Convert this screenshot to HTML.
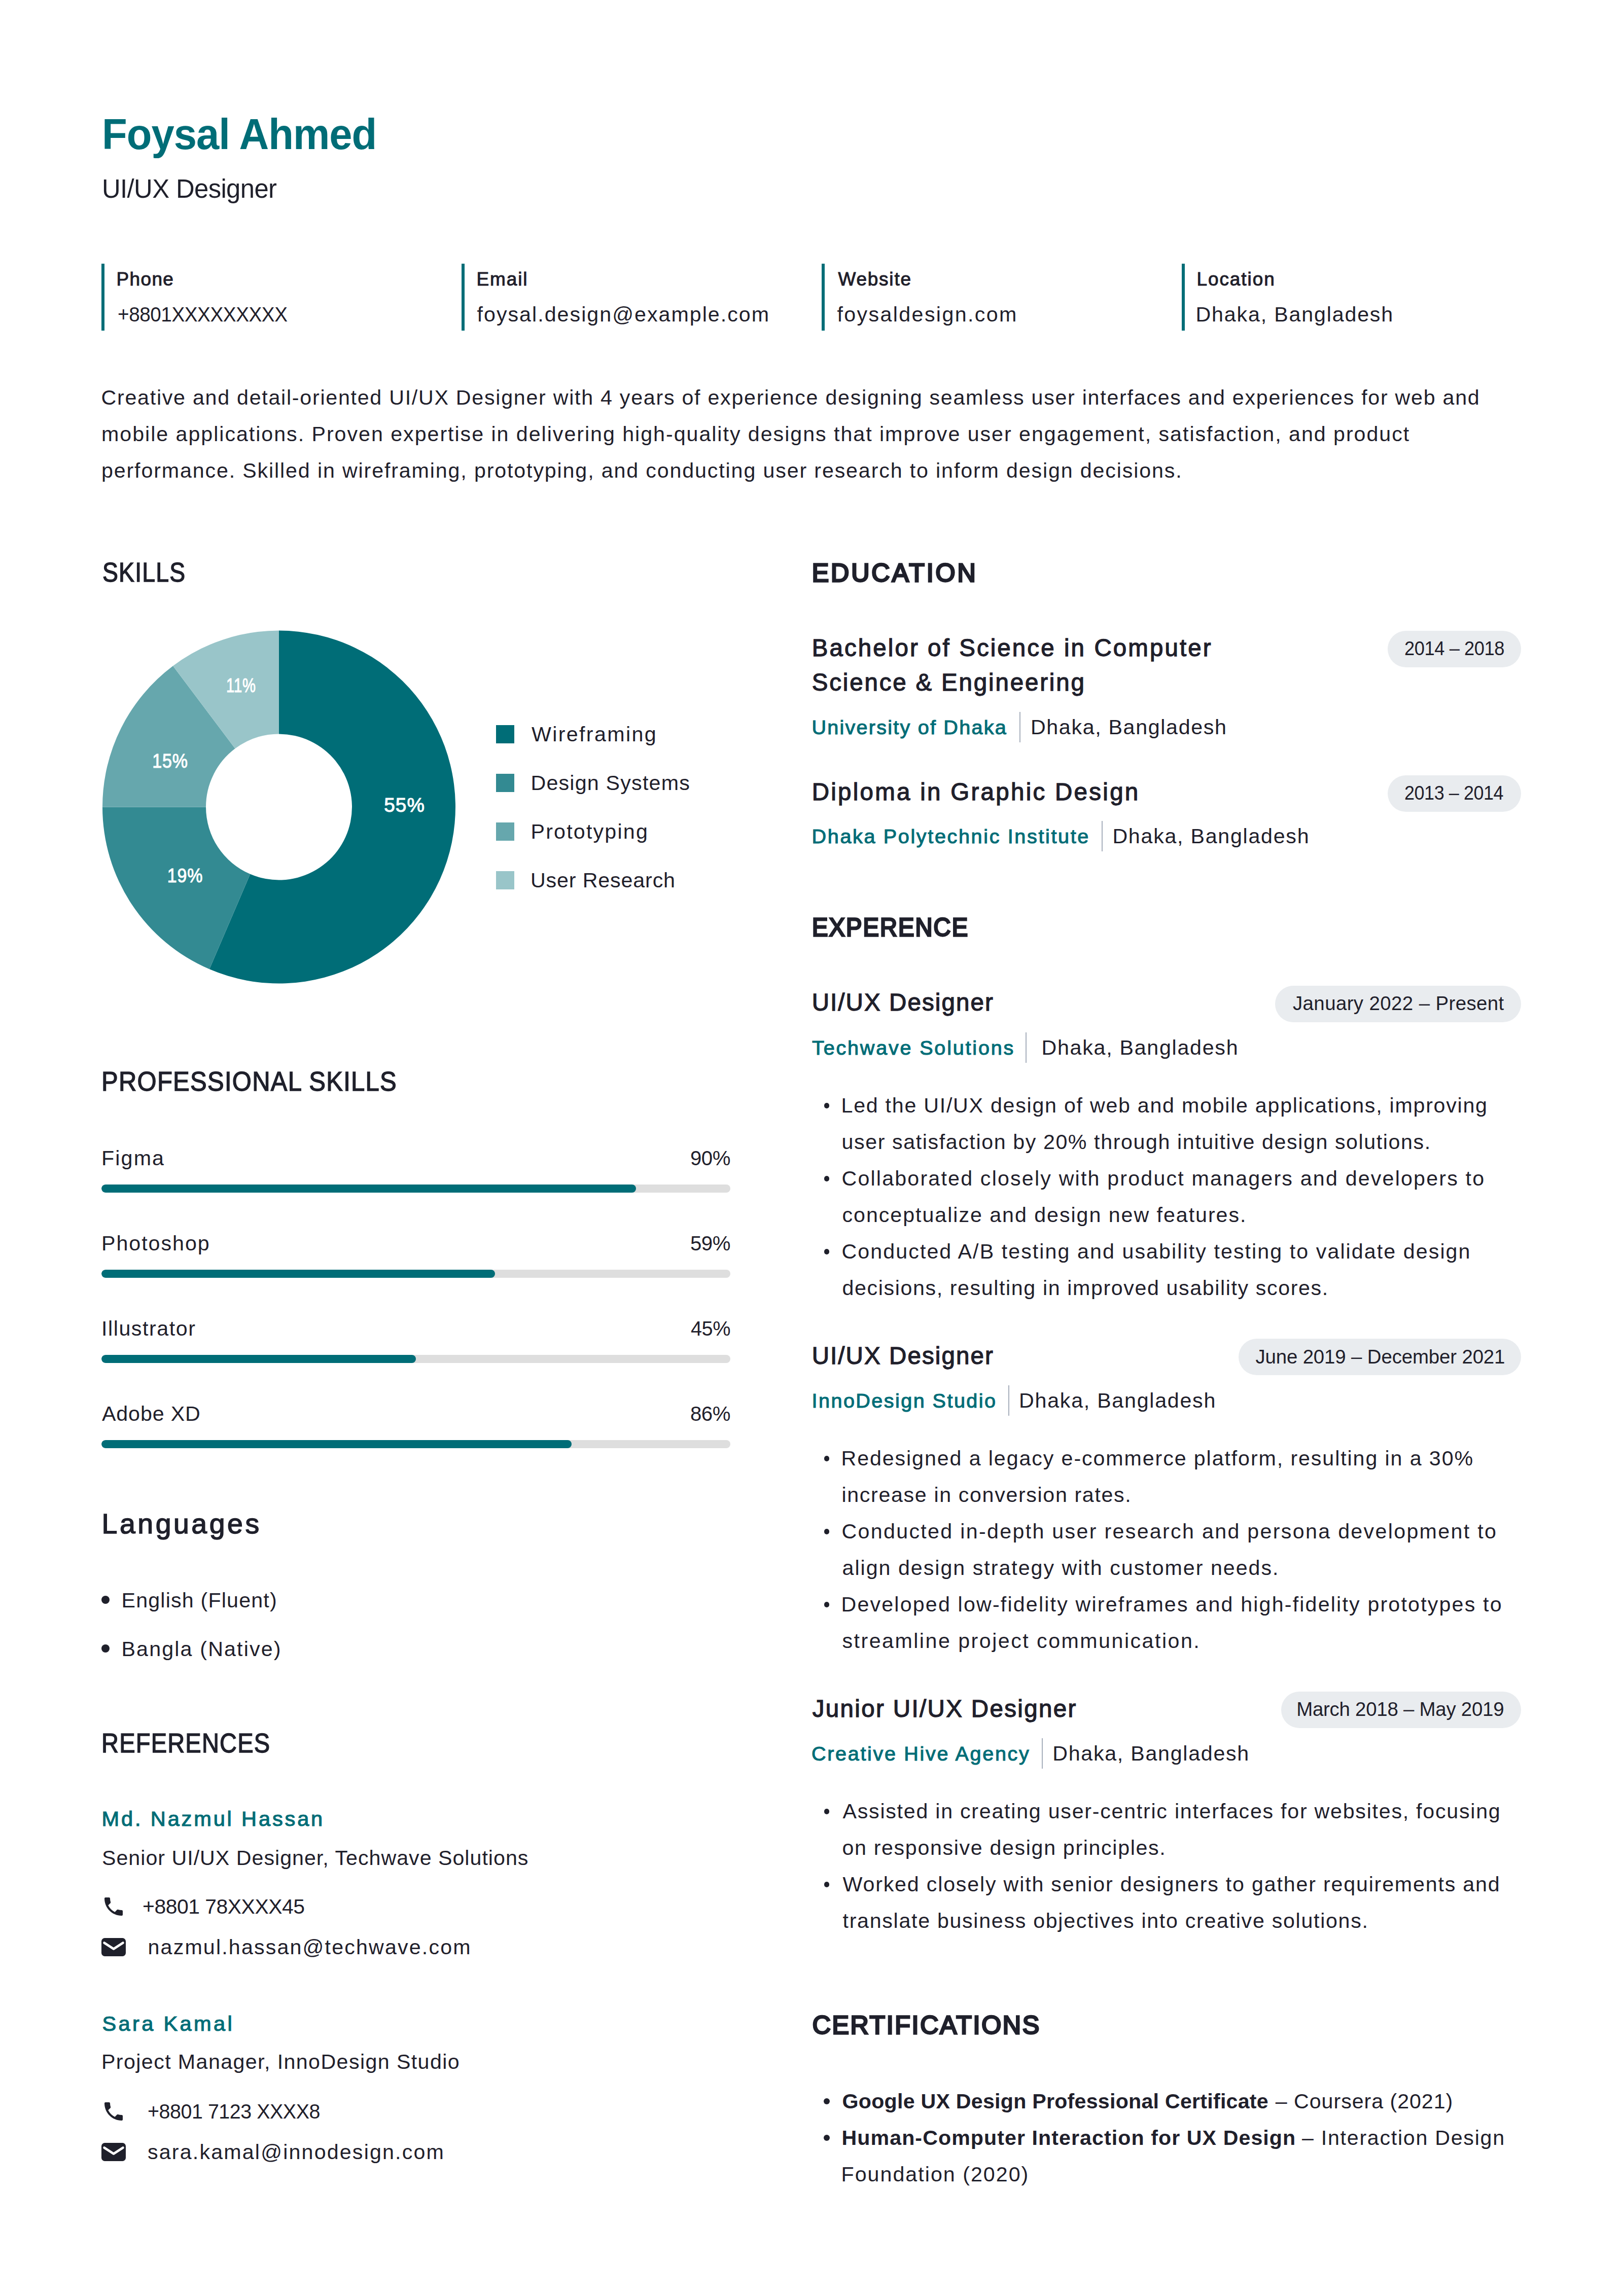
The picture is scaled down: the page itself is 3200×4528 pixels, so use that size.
<!DOCTYPE html>
<html lang="en">
<head>
<meta charset="utf-8">
<title>Foysal Ahmed – UI/UX Designer</title>
<style>
html,body{margin:0;padding:0;background:#fff}
body{width:3200px;height:4528px;font-family:"Liberation Sans",sans-serif;color:#1f202b}
.page{position:relative;width:3200px;height:4528px;background:#fff;overflow:hidden}
.page *{margin:0;padding:0;box-sizing:border-box}
ul,dl{list-style:none}
.t{position:absolute;transform-origin:0 0;white-space:nowrap;font-weight:400;font-style:normal;color:#1f202b;font-variant-ligatures:none;font-kerning:normal}
.t.m,.t.sb{-webkit-text-stroke-color:currentColor}
.t.b{font-weight:700}
.t.tl{color:#006d77}
.vbar{position:absolute;top:520px;width:6px;height:132px;background:#006d77}
.pill{}
.pbg{position:absolute;height:72px;border-radius:36px;background:#e9ecef}
.sep{position:absolute;width:2px;height:60px;background:#a7afbc}
.sw{position:absolute;left:978px;width:36px;height:36px}
.bar{position:absolute;left:200px;width:1240px;height:16px;border-radius:8px;background:#dedede;overflow:hidden}
.bar i{display:block;height:16px;border-radius:8px;background:#006d77}
.dot{position:absolute;border-radius:50%;background:#1f202b}
svg{position:absolute;overflow:visible}
svg text{font-family:"Liberation Sans",sans-serif;white-space:pre}
</style>
</head>
<body>
<main class="page">
<header>
<h1 class="t b tl" style="left:200.59px;top:215.0px;font-size:84.5px;line-height:101px;letter-spacing:-1.014px;transform:scaleX(0.9627)">Foysal Ahmed</h1>
<p class="t" style="left:201.31px;top:342.0px;font-size:51.0px;line-height:61px;letter-spacing:-0.612px;transform:scaleX(0.996)">UI/UX Designer</p>
<dl class="contact">
<div class="ci"><i class="vbar" style="left:200px"></i>
<dt class="t m" style="left:229.42px;top:528.6px;font-size:36.94px;line-height:44px;letter-spacing:1.432px;-webkit-text-stroke-width:1.04px">Phone</dt>
<dd class="t" style="left:231.52px;top:595.8px;font-size:41.2px;line-height:49px;letter-spacing:-0.494px;transform:scaleX(0.9397)">+8801XXXXXXXXX</dd>
</div>
<div class="ci"><i class="vbar" style="left:910px"></i>
<dt class="t m" style="left:939.42px;top:528.6px;font-size:36.94px;line-height:44px;letter-spacing:1.934px;-webkit-text-stroke-width:1.04px">Email</dt>
<dd class="t" style="left:940.5px;top:595.8px;font-size:41.2px;line-height:49px;letter-spacing:2.019px">foysal.design@example.com</dd>
</div>
<div class="ci"><i class="vbar" style="left:1620px"></i>
<dt class="t m" style="left:1652.42px;top:528.6px;font-size:36.94px;line-height:44px;letter-spacing:1.813px;-webkit-text-stroke-width:1.04px">Website</dt>
<dd class="t" style="left:1650.5px;top:595.8px;font-size:41.2px;line-height:49px;letter-spacing:2.373px">foysaldesign.com</dd>
</div>
<div class="ci"><i class="vbar" style="left:2330px"></i>
<dt class="t m" style="left:2359.42px;top:528.6px;font-size:36.94px;line-height:44px;letter-spacing:1.971px;-webkit-text-stroke-width:1.04px">Location</dt>
<dd class="t" style="left:2357.5px;top:595.8px;font-size:41.2px;line-height:49px;letter-spacing:1.824px">Dhaka, Bangladesh</dd>
</div>
</dl>
</header>
<section class="summary"><p>
<span class="t" style="left:199.5px;top:760.2px;font-size:41.2px;line-height:49px;letter-spacing:1.732px">Creative and detail-oriented UI/UX Designer with 4 years of experience designing seamless user interfaces and experiences for web and</span>
<span class="t" style="left:200.0px;top:831.8px;font-size:41.2px;line-height:49px;letter-spacing:1.967px">mobile applications. Proven expertise in delivering high-quality designs that improve user engagement, satisfaction, and product</span>
<span class="t" style="left:200.0px;top:903.8px;font-size:41.2px;line-height:49px;letter-spacing:1.859px">performance. Skilled in wireframing, prototyping, and conducting user research to inform design decisions.</span>
</p></section>
<section class="skills">
<h2 class="t m" style="left:201.78px;top:1097.4px;font-size:52.77px;line-height:63px;letter-spacing:1.373px;transform:scaleX(0.8784);-webkit-text-stroke-width:1.48px">SKILLS</h2>
<svg class="donut" style="left:0;top:0" width="3200" height="2000" viewBox="0 0 3200 2000" role="img" aria-label="Skills chart">
<path fill="#006d77" d="M550.00 1243.50A348 348 0 1 1 412.91 1911.36L493.27 1723.86A144 144 0 1 0 550.00 1447.50Z"/>
<path fill="#338a92" d="M412.91 1911.36A348 348 0 0 1 202.00 1591.50L406.00 1591.50A144 144 0 0 0 493.27 1723.86Z"/>
<path fill="#66a7ad" d="M202.00 1591.50A348 348 0 0 1 341.05 1313.21L463.54 1476.35A144 144 0 0 0 406.00 1591.50Z"/>
<path fill="#99c5c9" d="M341.05 1313.21A348 348 0 0 1 550.00 1243.50L550.00 1447.50A144 144 0 0 0 463.54 1476.35Z"/>
<text transform="translate(757.28 1600.9) scale(0.9798 1)" fill="#ffffff" stroke="#ffffff" stroke-width="1.11" style="font-size:39.58px;letter-spacing:1.03px">55%</text>
<text transform="translate(329.78 1739.9) scale(0.8586 1)" fill="#ffffff" stroke="#ffffff" stroke-width="1.11" style="font-size:39.58px;letter-spacing:1.03px">19%</text>
<text transform="translate(300.18 1513.7) scale(0.8599 1)" fill="#ffffff" stroke="#ffffff" stroke-width="1.11" style="font-size:39.58px;letter-spacing:1.03px">15%</text>
<text transform="translate(446.04 1365.3) scale(0.7389 1)" fill="#ffffff" stroke="#ffffff" stroke-width="1.11" style="font-size:39.58px;letter-spacing:1.03px">11%</text>
</svg>
<ul class="legend">
<li><i class="sw" style="top:1430px;background:#006d77"></i>
<span class="t" style="left:1047.9px;top:1423.8px;font-size:41.2px;line-height:49px;letter-spacing:2.371px">Wireframing</span>
</li>
<li><i class="sw" style="top:1526px;background:#338a92"></i>
<span class="t" style="left:1046.5px;top:1519.8px;font-size:41.2px;line-height:49px;letter-spacing:1.209px">Design Systems</span>
</li>
<li><i class="sw" style="top:1622px;background:#66a7ad"></i>
<span class="t" style="left:1046.5px;top:1615.8px;font-size:41.2px;line-height:49px;letter-spacing:2.195px">Prototyping</span>
</li>
<li><i class="sw" style="top:1718px;background:#99c5c9"></i>
<span class="t" style="left:1046.0px;top:1711.8px;font-size:41.2px;line-height:49px;letter-spacing:0.86px">User Research</span>
</li>
</ul>
</section>
<section class="proskills">
<h2 class="t m" style="left:200.03px;top:2101.4px;font-size:52.77px;line-height:63px;letter-spacing:1.373px;transform:scaleX(0.928);-webkit-text-stroke-width:1.48px">PROFESSIONAL SKILLS</h2>
<div class="skill">
<span class="t" style="left:200.0px;top:2259.9px;font-size:41.2px;line-height:49px;letter-spacing:2.142px">Figma</span>
<span class="t" style="left:1360.63px;top:2259.9px;font-size:41.2px;line-height:49px;letter-spacing:-0.494px;transform:scaleX(0.9746)">90%</span>
<div class="bar" style="top:2336px"><i style="width:1054px"></i></div>
</div>
<div class="skill">
<span class="t" style="left:200.0px;top:2427.9px;font-size:41.2px;line-height:49px;letter-spacing:1.969px">Photoshop</span>
<span class="t" style="left:1360.63px;top:2427.9px;font-size:41.2px;line-height:49px;letter-spacing:-0.494px;transform:scaleX(0.9746)">59%</span>
<div class="bar" style="top:2504px"><i style="width:776px"></i></div>
</div>
<div class="skill">
<span class="t" style="left:200.0px;top:2595.9px;font-size:41.2px;line-height:49px;letter-spacing:1.553px">Illustrator</span>
<span class="t" style="left:1361.6px;top:2595.9px;font-size:41.2px;line-height:49px;letter-spacing:-0.494px;transform:scaleX(0.9626)">45%</span>
<div class="bar" style="top:2672px"><i style="width:619.5px"></i></div>
</div>
<div class="skill">
<span class="t" style="left:201.0px;top:2763.9px;font-size:41.2px;line-height:49px;letter-spacing:0.868px">Adobe XD</span>
<span class="t" style="left:1360.63px;top:2763.9px;font-size:41.2px;line-height:49px;letter-spacing:-0.494px;transform:scaleX(0.9746)">86%</span>
<div class="bar" style="top:2840px"><i style="width:927px"></i></div>
</div>
</section>
<section class="languages">
<h2 class="t m" style="left:200.58px;top:2972.4px;font-size:55.42px;line-height:67px;letter-spacing:4.541px;-webkit-text-stroke-width:1.56px">Languages</h2>
<ul>
<li><i class="dot" style="left:200px;top:3147px;width:16px;height:16px"></i>
<span class="t" style="left:239.5px;top:3131.6px;font-size:41.2px;line-height:49px;letter-spacing:1.185px">English (Fluent)</span>
</li>
<li><i class="dot" style="left:200px;top:3243px;width:16px;height:16px"></i>
<span class="t" style="left:239.5px;top:3227.6px;font-size:41.2px;line-height:49px;letter-spacing:2.153px">Bangla (Native)</span>
</li>
</ul>
</section>
<section class="references">
<h2 class="t m" style="left:200.18px;top:3405.6px;font-size:52.77px;line-height:63px;letter-spacing:1.373px;transform:scaleX(0.8904);-webkit-text-stroke-width:1.48px">REFERENCES</h2>
<article>
<h3 class="t m tl" style="left:200.59px;top:3562px;font-size:41.56px;line-height:50px;letter-spacing:3.849px;-webkit-text-stroke-width:1.17px">Md. Nazmul Hassan</h3>
<p class="t" style="left:201.0px;top:3639.6px;font-size:41.2px;line-height:49px;letter-spacing:0.997px">Senior UI/UX Designer, Techwave Solutions</p>
<svg style="left:200px;top:3736px" width="48" height="48" viewBox="0 0 24 24"><path fill="#1f202b" d="M6.62 10.79c1.44 2.83 3.76 5.14 6.59 6.59l2.2-2.2c.27-.27.67-.36 1.02-.24 1.12.37 2.33.57 3.57.57.55 0 1 .45 1 1V20c0 .55-.45 1-1 1-9.39 0-17-7.61-17-17 0-.55.45-1 1-1h3.5c.55 0 1 .45 1 1 0 1.25.2 2.45.57 3.57.11.35.03.74-.25 1.02l-2.2 2.2z"/></svg>
<span class="t" style="left:281.01px;top:3736px;font-size:41.2px;line-height:49px;letter-spacing:-0.494px;transform:scaleX(0.9931)">+8801 78XXXX45</span>
<svg style="left:200px;top:3822px" width="48" height="36" viewBox="0 0 48 36"><rect width="48" height="36" rx="6.5" fill="#1f202b"/><path d="M5.5 9.5L24 21.5L42.5 9.5" fill="none" stroke="#fff" stroke-width="4.6" stroke-linecap="round" stroke-linejoin="round"/></svg>
<span class="t" style="left:291.5px;top:3816px;font-size:41.2px;line-height:49px;letter-spacing:2.16px">nazmul.hassan@techwave.com</span>
</article><article>
<h3 class="t m tl" style="left:201.59px;top:3965.7px;font-size:41.56px;line-height:50px;letter-spacing:4.331px;-webkit-text-stroke-width:1.17px">Sara Kamal</h3>
<p class="t" style="left:200.0px;top:4042.3px;font-size:41.2px;line-height:49px;letter-spacing:1.403px">Project Manager, InnoDesign Studio</p>
<svg style="left:200px;top:4139.5px" width="48" height="48" viewBox="0 0 24 24"><path fill="#1f202b" d="M6.62 10.79c1.44 2.83 3.76 5.14 6.59 6.59l2.2-2.2c.27-.27.67-.36 1.02-.24 1.12.37 2.33.57 3.57.57.55 0 1 .45 1 1V20c0 .55-.45 1-1 1-9.39 0-17-7.61-17-17 0-.55.45-1 1-1h3.5c.55 0 1 .45 1 1 0 1.25.2 2.45.57 3.57.11.35.03.74-.25 1.02l-2.2 2.2z"/></svg>
<span class="t" style="left:291.08px;top:4139.8px;font-size:41.2px;line-height:49px;letter-spacing:-0.494px;transform:scaleX(0.9575)">+8801 7123 XXXX8</span>
<svg style="left:200px;top:4225.6px" width="48" height="36" viewBox="0 0 48 36"><rect width="48" height="36" rx="6.5" fill="#1f202b"/><path d="M5.5 9.5L24 21.5L42.5 9.5" fill="none" stroke="#fff" stroke-width="4.6" stroke-linecap="round" stroke-linejoin="round"/></svg>
<span class="t" style="left:291.0px;top:4219.6px;font-size:41.2px;line-height:49px;letter-spacing:2.173px">sara.kamal@innodesign.com</span>
</article>
</section>
<section class="education">
<h2 class="t sb" style="left:1600.65px;top:1100.4px;font-size:50.14px;line-height:60px;letter-spacing:3.952px;-webkit-text-stroke-width:3.3px">EDUCATION</h2>
<article>
<h3>
<span class="t m" style="left:1600.66px;top:1248.6px;font-size:47.5px;line-height:57px;letter-spacing:3.083px;-webkit-text-stroke-width:1.33px">Bachelor of Science in Computer</span>
<span class="t m" style="left:1600.66px;top:1316.6px;font-size:47.5px;line-height:57px;letter-spacing:2.83px;-webkit-text-stroke-width:1.33px">Science &amp; Engineering</span>
</h3>
<i class="pbg" style="left:2736px;top:1243.9px;width:263px"></i>
<time class="t pill" style="left:2769.36px;top:1256.2px;font-size:38.45px;line-height:46px;letter-spacing:-0.461px;transform:scaleX(0.9445)">2014 – 2018</time>
<p class="org">
<span class="t m tl" style="left:1600.56px;top:1410.9px;font-size:39.58px;line-height:47px;letter-spacing:2.22px;-webkit-text-stroke-width:1.11px">University of Dhaka</span>
<i class="sep" style="left:2010px;top:1403.9px"></i>
<span class="t" style="left:2031.9px;top:1409.9px;font-size:41.2px;line-height:49px;letter-spacing:1.662px">Dhaka, Bangladesh</span>
</p>
</article><article>
<h3 class="t m" style="left:1600.66px;top:1533.4px;font-size:47.5px;line-height:57px;letter-spacing:3.276px;-webkit-text-stroke-width:1.33px">Diploma in Graphic Design</h3>
<i class="pbg" style="left:2736px;top:1528.8px;width:263px"></i>
<time class="t pill" style="left:2769.36px;top:1541.1px;font-size:38.45px;line-height:46px;letter-spacing:-0.461px;transform:scaleX(0.9351)">2013 – 2014</time>
<p class="org">
<span class="t m tl" style="left:1600.56px;top:1625.9px;font-size:39.58px;line-height:47px;letter-spacing:2.631px;-webkit-text-stroke-width:1.11px">Dhaka Polytechnic Institute</span>
<i class="sep" style="left:2172px;top:1618.9px"></i>
<span class="t" style="left:2193.4px;top:1624.9px;font-size:41.2px;line-height:49px;letter-spacing:1.731px">Dhaka, Bangladesh</span>
</p>
</article>
</section>
<section class="experience">
<h2 class="t sb" style="left:1600.9px;top:1799.4px;font-size:50.14px;line-height:60px;letter-spacing:2.252px;transform:scaleX(0.9385);-webkit-text-stroke-width:3.3px">EXPERENCE</h2>
<article>
<h3 class="t m" style="left:1600.66px;top:1948.4px;font-size:47.5px;line-height:57px;letter-spacing:2.085px;-webkit-text-stroke-width:1.33px">UI/UX Designer</h3>
<i class="pbg" style="left:2514px;top:1943.8px;width:485px"></i>
<time class="t pill" style="left:2549.0px;top:1956.1px;font-size:38.45px;line-height:46px;letter-spacing:0.388px">January 2022 – Present</time>
<p class="org">
<span class="t m tl" style="left:1601.06px;top:2043.2px;font-size:39.58px;line-height:47px;letter-spacing:2.792px;-webkit-text-stroke-width:1.11px">Techwave Solutions</span>
<i class="sep" style="left:2022px;top:2036.2px"></i>
<span class="t" style="left:2053.5px;top:2042.2px;font-size:41.2px;line-height:49px;letter-spacing:1.724px">Dhaka, Bangladesh</span>
</p>
<ul>
<li><i class="dot" style="left:1624.8px;top:2175.2px;width:10.5px;height:10.5px"></i>
<span class="t" style="left:1658.5px;top:2155.6px;font-size:41.2px;line-height:49px;letter-spacing:1.735px">Led the UI/UX design of web and mobile applications, improving</span>
<span class="t" style="left:1659.5px;top:2227.6px;font-size:41.2px;line-height:49px;letter-spacing:1.59px">user satisfaction by 20% through intuitive design solutions.</span>
</li>
<li><i class="dot" style="left:1624.8px;top:2319.2px;width:10.5px;height:10.5px"></i>
<span class="t" style="left:1659.5px;top:2299.6px;font-size:41.2px;line-height:49px;letter-spacing:2.182px">Collaborated closely with product managers and developers to</span>
<span class="t" style="left:1660.5px;top:2371.6px;font-size:41.2px;line-height:49px;letter-spacing:1.956px">conceptualize and design new features.</span>
</li>
<li><i class="dot" style="left:1624.8px;top:2463.2px;width:10.5px;height:10.5px"></i>
<span class="t" style="left:1659.5px;top:2443.6px;font-size:41.2px;line-height:49px;letter-spacing:2.069px">Conducted A/B testing and usability testing to validate design</span>
<span class="t" style="left:1660.5px;top:2515.6px;font-size:41.2px;line-height:49px;letter-spacing:1.604px">decisions, resulting in improved usability scores.</span>
</li></ul>
</article><article>
<h3 class="t m" style="left:1600.66px;top:2644.7px;font-size:47.5px;line-height:57px;letter-spacing:2.085px;-webkit-text-stroke-width:1.33px">UI/UX Designer</h3>
<i class="pbg" style="left:2442px;top:2640.2px;width:557px"></i>
<time class="t pill" style="left:2475.4px;top:2652.5px;font-size:38.45px;line-height:46px;letter-spacing:-0.154px">June 2019 – December 2021</time>
<p class="org">
<span class="t m tl" style="left:1600.56px;top:2739.2px;font-size:39.58px;line-height:47px;letter-spacing:2.441px;-webkit-text-stroke-width:1.11px">InnoDesign Studio</span>
<i class="sep" style="left:1987.5px;top:2732.2px"></i>
<span class="t" style="left:2009.1px;top:2738.2px;font-size:41.2px;line-height:49px;letter-spacing:1.731px">Dhaka, Bangladesh</span>
</p>
<ul>
<li><i class="dot" style="left:1624.8px;top:2871.2px;width:10.5px;height:10.5px"></i>
<span class="t" style="left:1658.5px;top:2851.6px;font-size:41.2px;line-height:49px;letter-spacing:1.898px">Redesigned a legacy e-commerce platform, resulting in a 30%</span>
<span class="t" style="left:1659.5px;top:2923.6px;font-size:41.2px;line-height:49px;letter-spacing:1.642px">increase in conversion rates.</span>
</li>
<li><i class="dot" style="left:1624.8px;top:3015.2px;width:10.5px;height:10.5px"></i>
<span class="t" style="left:1659.5px;top:2995.6px;font-size:41.2px;line-height:49px;letter-spacing:2.311px">Conducted in-depth user research and persona development to</span>
<span class="t" style="left:1660.5px;top:3067.6px;font-size:41.2px;line-height:49px;letter-spacing:1.991px">align design strategy with customer needs.</span>
</li>
<li><i class="dot" style="left:1624.8px;top:3159.2px;width:10.5px;height:10.5px"></i>
<span class="t" style="left:1658.5px;top:3139.6px;font-size:41.2px;line-height:49px;letter-spacing:2.174px">Developed low-fidelity wireframes and high-fidelity prototypes to</span>
<span class="t" style="left:1660.5px;top:3211.6px;font-size:41.2px;line-height:49px;letter-spacing:2.478px">streamline project communication.</span>
</li></ul>
</article><article>
<h3 class="t m" style="left:1601.66px;top:3340.9px;font-size:47.5px;line-height:57px;letter-spacing:2.362px;-webkit-text-stroke-width:1.33px">Junior UI/UX Designer</h3>
<i class="pbg" style="left:2526px;top:3336.1px;width:473px"></i>
<time class="t pill" style="left:2556.2px;top:3348.4px;font-size:38.45px;line-height:46px;letter-spacing:-0.258px">March 2018 – May 2019</time>
<p class="org">
<span class="t m tl" style="left:1600.06px;top:3435.2px;font-size:39.58px;line-height:47px;letter-spacing:2.653px;-webkit-text-stroke-width:1.11px">Creative Hive Agency</span>
<i class="sep" style="left:2053.5px;top:3428.2px"></i>
<span class="t" style="left:2075.2px;top:3434.2px;font-size:41.2px;line-height:49px;letter-spacing:1.724px">Dhaka, Bangladesh</span>
</p>
<ul>
<li><i class="dot" style="left:1624.8px;top:3567.1px;width:10.5px;height:10.5px"></i>
<span class="t" style="left:1661.5px;top:3547.5px;font-size:41.2px;line-height:49px;letter-spacing:1.742px">Assisted in creating user-centric interfaces for websites, focusing</span>
<span class="t" style="left:1660.5px;top:3619.5px;font-size:41.2px;line-height:49px;letter-spacing:1.649px">on responsive design principles.</span>
</li>
<li><i class="dot" style="left:1624.8px;top:3711.1px;width:10.5px;height:10.5px"></i>
<span class="t" style="left:1661.5px;top:3691.5px;font-size:41.2px;line-height:49px;letter-spacing:1.812px">Worked closely with senior designers to gather requirements and</span>
<span class="t" style="left:1661.5px;top:3763.5px;font-size:41.2px;line-height:49px;letter-spacing:1.696px">translate business objectives into creative solutions.</span>
</li></ul>
</article>
</section>
<section class="certifications">
<h2 class="t sb" style="left:1601.65px;top:3964.1px;font-size:50.14px;line-height:60px;letter-spacing:2.641px;-webkit-text-stroke-width:3.3px">CERTIFICATIONS</h2>
<ul>
<li><i class="dot" style="left:1624px;top:4138.3px;width:12px;height:12px"></i>
<b class="t b" style="left:1660.5px;top:4119.8px;font-size:41.2px;line-height:49px;letter-spacing:0.235px">Google UX Design Professional Certificate</b>
<span class="t" style="left:2514.8px;top:4119.8px;font-size:41.2px;line-height:49px;letter-spacing:0.954px">– Coursera (2021)</span>
</li>
<li><i class="dot" style="left:1624px;top:4210.3px;width:12px;height:12px"></i>
<b class="t b" style="left:1659.5px;top:4191.8px;font-size:41.2px;line-height:49px;letter-spacing:1.056px">Human-Computer Interaction for UX Design</b>
<span class="t" style="left:2567.0px;top:4191.8px;font-size:41.2px;line-height:49px;letter-spacing:1.725px">– Interaction Design</span>
<span class="t" style="left:1658.5px;top:4263.7px;font-size:41.2px;line-height:49px;letter-spacing:2.013px">Foundation (2020)</span>
</li>
</ul>
</section>
</main>
</body>
</html>
